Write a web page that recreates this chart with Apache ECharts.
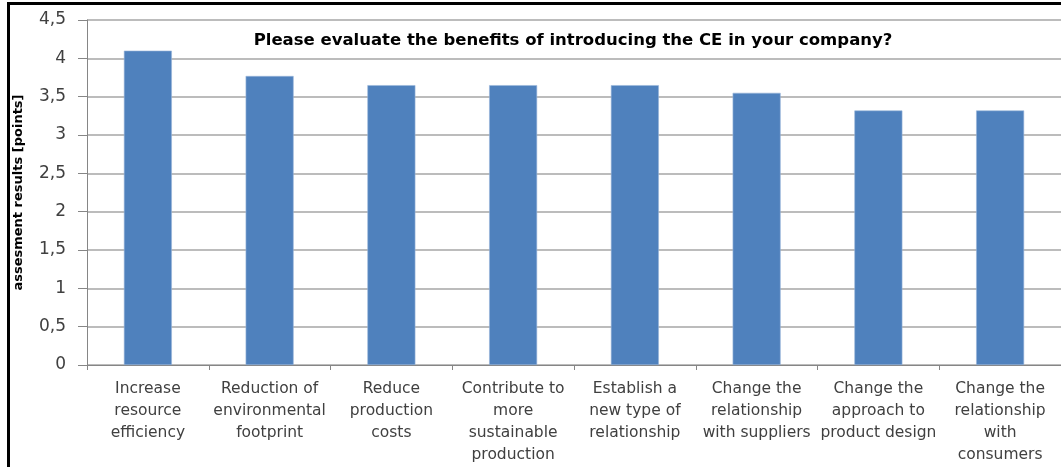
<!DOCTYPE html>
<html>
<head>
<meta charset="utf-8">
<style>
html,body{margin:0;padding:0;background:#fff;}
#main{width:1061px;height:467px;}
</style>
<script src="https://cdn.jsdelivr.net/npm/echarts@6/dist/echarts.min.js"></script>
</head>
<body>
<div id="main"></div>
<script>
const titleText = 'Please evaluate the benefits of introducing the CE in your company?';
const yAxisName = 'assesment results [points]';
const categories = [
  'Increase\nresource\nefficiency',
  'Reduction of\nenvironmental\nfootprint',
  'Reduce\nproduction\ncosts',
  'Contribute to\nmore\nsustainable\nproduction',
  'Establish a\nnew type of\nrelationship',
  'Change the\nrelationship\nwith suppliers',
  'Change the\napproach to\nproduct design',
  'Change the\nrelationship\nwith\nconsumers'
];
const values = [4.1, 3.77, 3.65, 3.65, 3.65, 3.55, 3.32, 3.32];
const yMin = 0, yMax = 4.5, yStep = 0.5;

const chart = echarts.init(document.getElementById('main'));
chart.setOption({
  animation: false,
  title: {
    text: titleText,
    left: 568, top: 27, textAlign: 'center',
    textStyle: {fontFamily: 'DejaVu Sans', fontWeight: 'bold', fontSize: 16.5, color: '#000'}
  },
  graphic: [{
    type: 'rect', z: 100, silent: true,
    shape: {x: 8.5, y: 3.5, width: 1100, height: 500},
    style: {fill: 'none', stroke: '#000', lineWidth: 3}
  }],
  grid: {left: 87, top: 20, width: 976, height: 345, containLabel: false},
  xAxis: {
    type: 'category',
    data: categories,
    axisLine: {lineStyle: {color: '#868686', width: 1}},
    axisTick: {show: true, length: 5, lineStyle: {color: '#868686'}},
    axisLabel: {
      interval: 0, margin: 13, lineHeight: 22,
      fontFamily: 'DejaVu Sans', fontSize: 15.5, color: '#404040'
    }
  },
  yAxis: {
    type: 'value',
    min: yMin, max: yMax, interval: yStep,
    name: yAxisName,
    nameLocation: 'middle', nameGap: 62, nameRotate: 90,
    nameTextStyle: {fontFamily: 'DejaVu Sans', fontWeight: 'bold', fontSize: 13, color: '#000'},
    axisLine: {show: true, lineStyle: {color: '#868686'}},
    axisTick: {show: true, length: 9, lineStyle: {color: '#868686'}},
    splitLine: {lineStyle: {color: '#a6a6a6', width: 1.5}},
    axisLabel: {
      margin: 21, fontFamily: 'DejaVu Sans', fontSize: 17, color: '#404040',
      formatter: v => String(v).replace('.', ',')
    }
  },
  series: [{
    type: 'bar',
    data: values,
    barWidth: 48,
    itemStyle: {color: '#4F81BD', borderColor: '#9bb7da', borderWidth: 0.6}
  }]
});
</script>
</body>
</html>
